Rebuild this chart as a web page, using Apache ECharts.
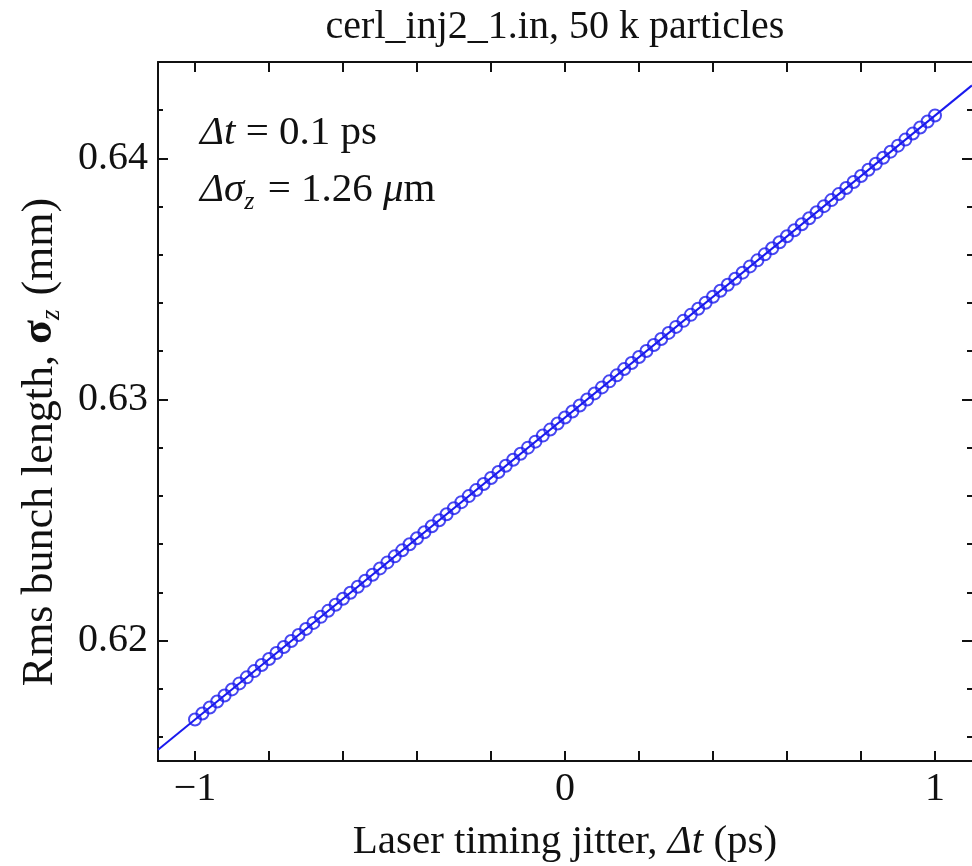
<!DOCTYPE html>
<html>
<head>
<meta charset="utf-8">
<script src="https://cdn.jsdelivr.net/npm/echarts@6/dist/echarts.min.js"></script>
<style>
html, body { margin: 0; padding: 0; background: #fff; }
#chart { width: 972px; height: 866px; }
</style>
</head>
<body>
<div id="chart"></div>
<script>
// laser timing jitter (ps)
const jitterPs = [
  -1.00, -0.98, -0.96, -0.94, -0.92, -0.90, -0.88, -0.86, -0.84, -0.82,
  -0.80, -0.78, -0.76, -0.74, -0.72, -0.70, -0.68, -0.66, -0.64, -0.62,
  -0.60, -0.58, -0.56, -0.54, -0.52, -0.50, -0.48, -0.46, -0.44, -0.42,
  -0.40, -0.38, -0.36, -0.34, -0.32, -0.30, -0.28, -0.26, -0.24, -0.22,
  -0.20, -0.18, -0.16, -0.14, -0.12, -0.10, -0.08, -0.06, -0.04, -0.02,
  0.00, 0.02, 0.04, 0.06, 0.08, 0.10, 0.12, 0.14, 0.16, 0.18,
  0.20, 0.22, 0.24, 0.26, 0.28, 0.30, 0.32, 0.34, 0.36, 0.38,
  0.40, 0.42, 0.44, 0.46, 0.48, 0.50, 0.52, 0.54, 0.56, 0.58,
  0.60, 0.62, 0.64, 0.66, 0.68, 0.70, 0.72, 0.74, 0.76, 0.78,
  0.80, 0.82, 0.84, 0.86, 0.88, 0.90, 0.92, 0.94, 0.96, 0.98,
  1.00
]
// rms bunch length sigma_z (mm)
const sigmaZ = [
  0.61672, 0.61697, 0.61722, 0.61747, 0.61772, 0.61797, 0.61822, 0.61847, 0.61873, 0.61898,
  0.61923, 0.61948, 0.61973, 0.61998, 0.62023, 0.62048, 0.62073, 0.62098, 0.62123, 0.62148,
  0.62173, 0.62198, 0.62223, 0.62248, 0.62273, 0.62299, 0.62324, 0.62349, 0.62374, 0.62399,
  0.62424, 0.62449, 0.62474, 0.62499, 0.62524, 0.62549, 0.62574, 0.62599, 0.62624, 0.62649,
  0.62674, 0.62699, 0.62725, 0.62750, 0.62775, 0.62800, 0.62825, 0.62850, 0.62875, 0.62900,
  0.62925, 0.62950, 0.62975, 0.63000, 0.63025, 0.63050, 0.63075, 0.63100, 0.63126, 0.63151,
  0.63176, 0.63201, 0.63226, 0.63251, 0.63276, 0.63301, 0.63326, 0.63351, 0.63376, 0.63401,
  0.63426, 0.63451, 0.63476, 0.63501, 0.63526, 0.63552, 0.63577, 0.63602, 0.63627, 0.63652,
  0.63677, 0.63702, 0.63727, 0.63752, 0.63777, 0.63802, 0.63827, 0.63852, 0.63877, 0.63902,
  0.63927, 0.63953, 0.63978, 0.64003, 0.64028, 0.64053, 0.64078, 0.64103, 0.64128, 0.64153,
  0.64178
]
// linear fit, drawn across the whole frame
const fitX = [-1.1, 1.1]
const fitY = [0.61547, 0.64303]

const xTicks = [-1, -0.8, -0.6, -0.4, -0.2, 0, 0.2, 0.4, 0.6, 0.8, 1]
const xLabels = [-1, 0, 1]
const yMajor = [0.62, 0.63, 0.64]
const yMinor = [0.616, 0.618, 0.622, 0.624, 0.626, 0.628, 0.632, 0.634, 0.636, 0.638, 0.642]

const serif = '"Liberation Serif", "DejaVu Serif", serif'
const blue = '#1a1aee'

const chart = echarts.init(document.getElementById('chart'))

function xAxisCfg(pos, withLabels) {
  return {
    type: 'value',
    position: pos,
    min: -1.1,
    max: 1.1,
    axisLine: { show: true, onZero: false, lineStyle: { color: '#111', width: 2 } },
    axisTick: { show: true, inside: true, length: 10, customValues: xTicks, lineStyle: { color: '#111', width: 2 } },
    axisLabel: {
      show: withLabels,
      customValues: xLabels,
      margin: 8,
      fontFamily: serif,
      fontSize: 40,
      color: '#111',
      formatter: v => (v < 0 ? '\u2212' + Math.abs(v) : String(v))
    },
    splitLine: { show: false }
  }
}

function yAxisCfg(pos, ticks, len, withLine, withLabels) {
  return {
    type: 'value',
    position: pos,
    min: 0.615,
    max: 0.644,
    axisLine: { show: withLine, onZero: false, lineStyle: { color: '#111', width: 2 } },
    axisTick: { show: true, inside: true, length: len, customValues: ticks, lineStyle: { color: '#111', width: 2 } },
    axisLabel: {
      show: withLabels,
      customValues: yMajor,
      margin: 10,
      fontFamily: serif,
      fontSize: 40,
      color: '#111',
      formatter: v => v.toFixed(2)
    },
    splitLine: { show: false }
  }
}

const option = {
  backgroundColor: '#fff',
  animation: false,
  grid: { left: 158, right: -2, top: 62, bottom: 105 },
  xAxis: [
    xAxisCfg('bottom', true),
    xAxisCfg('top', false)
  ],
  yAxis: [
    yAxisCfg('left', yMajor, 10, true, true),
    yAxisCfg('left', yMinor, 5, false, false),
    yAxisCfg('right', yMajor, 10, false, false),
    yAxisCfg('right', yMinor, 5, false, false)
  ],
  series: [
    {
      type: 'line',
      data: fitX.map((x, i) => [x, fitY[i]]),
      showSymbol: false,
      lineStyle: { color: blue, width: 2 },
      z: 2
    },
    {
      type: 'scatter',
      data: jitterPs.map((x, i) => [x, sigmaZ[i]]),
      symbol: 'circle',
      symbolSize: 12,
      itemStyle: { color: 'rgba(0,0,0,0)', borderColor: blue, borderWidth: 2 },
      z: 3
    }
  ],
  graphic: [
    {
      type: 'text', x: 555, y: 27,
      style: { text: 'cerl_inj2_1.in, 50 k particles', font: '40px ' + serif, fill: '#111', align: 'center', verticalAlign: 'middle' }
    },
    {
      type: 'text', x: 565, y: 842,
      style: {
        text: '{a|Laser timing jitter, }{i|\u0394t}{a| (ps)}',
        align: 'center', verticalAlign: 'middle',
        rich: {
          a: { fontFamily: serif, fontSize: 41, fill: '#111' },
          i: { fontFamily: serif, fontSize: 41, fontStyle: 'italic', fill: '#111' }
        }
      }
    },
    {
      type: 'text', x: 40, y: 442, rotation: Math.PI / 2,
      style: {
        text: '{a|Rms bunch length, }{s|\u03c3}{sub|z}{a| (mm)}',
        align: 'center', verticalAlign: 'middle',
        rich: {
          a: { fontFamily: serif, fontSize: 44, fill: '#111', height: 48, verticalAlign: 'bottom' },
          s: { fontFamily: serif, fontSize: 44, fontWeight: 'bold', fill: '#111', height: 48, verticalAlign: 'bottom' },
          sub: { fontFamily: serif, fontSize: 27, fontStyle: 'italic', fill: '#111', height: 48, verticalAlign: 'bottom', padding: [0, 3, -12, 0] }
        }
      }
    },
    {
      type: 'text', x: 200, y: 133,
      style: {
        text: '{i|\u0394t}{a| = 0.1 ps}',
        verticalAlign: 'middle',
        rich: {
          a: { fontFamily: serif, fontSize: 41, fill: '#111' },
          i: { fontFamily: serif, fontSize: 41, fontStyle: 'italic', fill: '#111' }
        }
      }
    },
    {
      type: 'text', x: 200, y: 190,
      style: {
        text: '{i|\u0394\u03c3}{sub|z}{a| = 1.26 }{i|\u03bc}{a|m}',
        verticalAlign: 'middle',
        rich: {
          a: { fontFamily: serif, fontSize: 41, fill: '#111', height: 46, verticalAlign: 'bottom' },
          i: { fontFamily: serif, fontSize: 41, fontStyle: 'italic', fill: '#111', height: 46, verticalAlign: 'bottom' },
          sub: { fontFamily: serif, fontSize: 26, fontStyle: 'italic', fill: '#111', height: 46, verticalAlign: 'bottom', padding: [0, 3, -12, 0] }
        }
      }
    }
  ]
}

chart.setOption(option)
</script>
</body>
</html>
